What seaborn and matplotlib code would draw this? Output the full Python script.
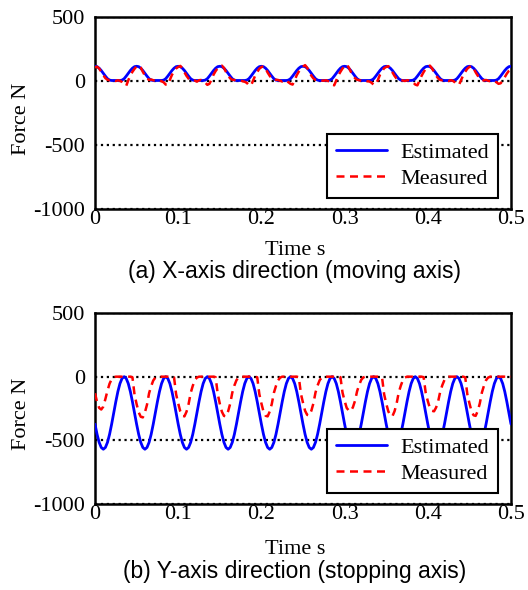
import numpy as np
import pandas as pd
import matplotlib
matplotlib.use("Agg")
import matplotlib.pyplot as plt
import seaborn as sns

# ---------------- data ----------------
time_s = np.linspace(0.0, 0.5, 201)

est_x = [
    115, 112, 100, 82, 60, 38, 18, 7, 4, 4, 4, 4, 4, 7, 18, 38, 60, 82, 100, 112,
    115, 112, 100, 82, 60, 38, 18, 7, 4, 4, 4, 4, 4, 7, 18, 38, 60, 82, 100, 112,
    115, 112, 100, 82, 60, 38, 18, 7, 4, 4, 4, 4, 4, 7, 18, 38, 60, 82, 100, 112,
    115, 112, 100, 82, 60, 38, 18, 7, 4, 4, 4, 4, 4, 7, 18, 38, 60, 82, 100, 112,
    115, 112, 100, 82, 60, 38, 18, 7, 4, 4, 4, 4, 4, 7, 18, 38, 60, 82, 100, 112,
    115, 112, 100, 82, 60, 38, 18, 7, 4, 4, 4, 4, 4, 7, 18, 38, 60, 82, 100, 112,
    115, 112, 100, 82, 60, 38, 18, 7, 4, 4, 4, 4, 4, 7, 18, 38, 60, 82, 100, 112,
    115, 112, 100, 82, 60, 38, 18, 7, 4, 4, 4, 4, 4, 7, 18, 38, 60, 82, 100, 112,
    115, 112, 100, 82, 60, 38, 18, 7, 4, 4, 4, 4, 4, 7, 18, 38, 60, 82, 100, 112,
    115, 112, 100, 82, 60, 38, 18, 7, 4, 4, 4, 4, 4, 7, 18, 38, 60, 82, 100, 112,
    115,
]

meas_x = [
    105, 112, 98, 70, 45, 22, 10, 6, 10, 4, 0, 6, 2, -8, -25, -38, 5, 45, 72, 95,
    115, 122, 105, 72, 42, 20, 8, 12, 6, 2, 8, 4, -2, -10, -28, -30, 8, 48, 75, 98,
    110, 118, 100, 68, 40, 18, 6, 10, 4, -5, 6, 8, 0, -12, -30, -22, 10, 50, 78, 100,
    112, 120, 102, 70, 44, 20, 10, 8, 2, 6, 4, -2, -6, -15, -32, -36, 2, 42, 70, 96,
    108, 116, 98, 66, 40, 18, 6, 10, 8, 2, -4, 6, 2, -10, -22, -28, 6, 46, 74, 95,
    112, 124, 104, 70, 42, 20, 8, 4, 8, 4, 2, 6, 0, -8, -26, -34, 4, 44, 72, 98,
    115, 128, 106, 72, 44, 22, 10, 6, 2, 8, 4, -2, -4, -14, -30, -26, 8, 48, 76, 100,
    110, 116, 98, 68, 40, 18, 6, 8, 4, 0, 6, 4, -2, -12, -28, -34, 2, 40, 70, 95,
    112, 120, 100, 70, 42, 20, 8, 6, 10, 4, 0, 6, 2, -10, -24, -30, 6, 44, 72, 96,
    110, 118, 100, 68, 42, 20, 8, 4, 8, 2, -2, 4, 0, -10, -22, -18, 2, 30, 58, 80,
    92,
]

est_y = [
    -373, -453, -516, -556, -570, -556, -516, -453, -373, -285, -197, -117, -54, -14, 0, -14, -54, -117, -197, -285,
    -373, -453, -516, -556, -570, -556, -516, -453, -373, -285, -197, -117, -54, -14, 0, -14, -54, -117, -197, -285,
    -373, -453, -516, -556, -570, -556, -516, -453, -373, -285, -197, -117, -54, -14, 0, -14, -54, -117, -197, -285,
    -373, -453, -516, -556, -570, -556, -516, -453, -373, -285, -197, -117, -54, -14, 0, -14, -54, -117, -197, -285,
    -373, -453, -516, -556, -570, -556, -516, -453, -373, -285, -197, -117, -54, -14, 0, -14, -54, -117, -197, -285,
    -373, -453, -516, -556, -570, -556, -516, -453, -373, -285, -197, -117, -54, -14, 0, -14, -54, -117, -197, -285,
    -373, -453, -516, -556, -570, -556, -516, -453, -373, -285, -197, -117, -54, -14, 0, -14, -54, -117, -197, -285,
    -373, -453, -516, -556, -570, -556, -516, -453, -373, -285, -197, -117, -54, -14, 0, -14, -54, -117, -197, -285,
    -373, -453, -516, -556, -570, -556, -516, -453, -373, -285, -197, -117, -54, -14, 0, -14, -54, -117, -197, -285,
    -373, -453, -516, -556, -570, -556, -516, -453, -373, -285, -197, -117, -54, -14, 0, -14, -54, -117, -197, -285,
    -373,
]

meas_y = [
    -130, -200, -245, -258, -235, -175, -110, -55, -20, -5, 0, 0, 0, 0, 0, 0, 0, 0, -5, -140,
    -215, -280, -315, -320, -280, -220, -130, -75, -30, -8, 0, 0, 0, 0, 0, 0, 0, 0, -5, -138,
    -210, -272, -306, -312, -275, -215, -128, -72, -28, -7, 0, 0, 0, 0, 0, 0, 0, 0, -4, -136,
    -212, -275, -308, -312, -272, -212, -126, -70, -28, -6, 0, 0, 0, 0, 0, 0, 0, 0, -5, -137,
    -210, -274, -307, -312, -274, -214, -127, -73, -29, -8, 0, 0, 0, 0, 0, 0, 0, 0, -5, -135,
    -205, -268, -300, -305, -268, -210, -125, -70, -28, -7, 0, 0, 0, 0, 0, 0, 0, 0, -4, -125,
    -190, -245, -266, -270, -240, -190, -115, -65, -25, -6, 0, 0, 0, 0, 0, 0, 0, 0, -5, -138,
    -210, -272, -305, -310, -272, -212, -126, -72, -28, -7, 0, 0, 0, 0, 0, 0, 0, 0, -4, -128,
    -192, -246, -268, -272, -242, -192, -116, -66, -26, -6, 0, 0, 0, 0, 0, 0, 0, 0, -5, -138,
    -208, -270, -303, -308, -270, -210, -125, -71, -28, -7, 0, 0, 0, 0, 0, 0, 0, 0, 0, 0,
    0,
]

x_ticks = [0, 0.1, 0.2, 0.3, 0.4, 0.5]
x_tick_labels = ["0", "0.1", "0.2", "0.3", "0.4", "0.5"]
y_ticks = [500, 0, -500, -1000]
y_tick_labels = ["500", "0", "-500", "-1000"]
series_labels = ["Estimated", "Measured"]
captions = ["(a) X-axis direction (moving axis)", "(b) Y-axis direction (stopping axis)"]

# ---------------- style ----------------
sns.set_style("white")
plt.rcParams["font.family"] = ["Liberation Serif", "DejaVu Serif"]
plt.rcParams["text.color"] = "black"
plt.rcParams["axes.labelcolor"] = "black"
plt.rcParams["xtick.color"] = "black"
plt.rcParams["ytick.color"] = "black"

W, H = 528, 590
fig = plt.figure(figsize=(W / 100, H / 100), dpi=100)

L, R = 95, 511
panels = [
    dict(top=17, bottom=209, est=est_x, meas=meas_x, cap=captions[0], cap_y=271.5, lab_y=250),
    dict(top=313, bottom=504, est=est_y, meas=meas_y, cap=captions[1], cap_y=571.5, lab_y=550),
]

for p in panels:
    ax = fig.add_axes([L / W, 1 - p["bottom"] / H, (R - L) / W, (p["bottom"] - p["top"]) / H])
    df = pd.DataFrame({"t": time_s, "est": p["est"], "meas": p["meas"]})
    sns.lineplot(data=df, x="t", y="est", ax=ax, color="#0000FF", lw=2.0,
                 label=series_labels[0], zorder=3)
    sns.lineplot(data=df, x="t", y="meas", ax=ax, color="#FF0000", lw=1.8,
                 linestyle=(0, (3.2, 2.2)), label=series_labels[1], zorder=4)
    ax.set_xlim(0, 0.5)
    ax.set_ylim(-1000, 500)
    ax.set_xticks(x_ticks)
    ax.set_xticklabels(x_tick_labels)
    ax.set_yticks(y_ticks)
    ax.set_yticklabels(y_tick_labels)
    ax.tick_params(axis="both", direction="in", length=4, width=1, labelsize=16,
                   colors="black")
    ax.tick_params(axis="x", pad=1)
    ax.tick_params(axis="y", pad=7)
    ax.yaxis.grid(True, linestyle=":", color="black", lw=1.6)
    ax.xaxis.grid(False)
    ax.set_axisbelow(True)
    for s in ax.spines.values():
        s.set_visible(True)
        s.set_color("black")
        s.set_linewidth(1.8)

    ax.set_xlabel("Time s", fontsize=16, color="black")
    ax.xaxis.label.set_va("center")
    ax.xaxis.set_label_coords((295 - L) / (R - L),
                              (p["bottom"] - p["lab_y"]) / (p["bottom"] - p["top"]))
    ax.set_ylabel("Force N", fontsize=16, color="black")
    ax.yaxis.label.set_va("center")
    ax.yaxis.set_label_coords((22 - L) / (R - L), 0.47)

    leg = ax.legend(loc="lower right", bbox_to_anchor=((498 - L) / (R - L), 0.057),
                    borderaxespad=0, fontsize=16, frameon=True, fancybox=False,
                    handlelength=2.3, handletextpad=0.6, borderpad=0.4,
                    labelspacing=0.25)
    leg.get_frame().set_edgecolor("black")
    leg.get_frame().set_linewidth(1.5)
    leg.get_frame().set_alpha(1)
    for txt in leg.get_texts():
        txt.set_color("black")

    fig.text(294.5 / W, 1 - p["cap_y"] / H, p["cap"], ha="center", va="center",
             fontsize=16.5, color="black", family=["Liberation Sans", "DejaVu Sans"])

fig.savefig("out.png", dpi=100)
